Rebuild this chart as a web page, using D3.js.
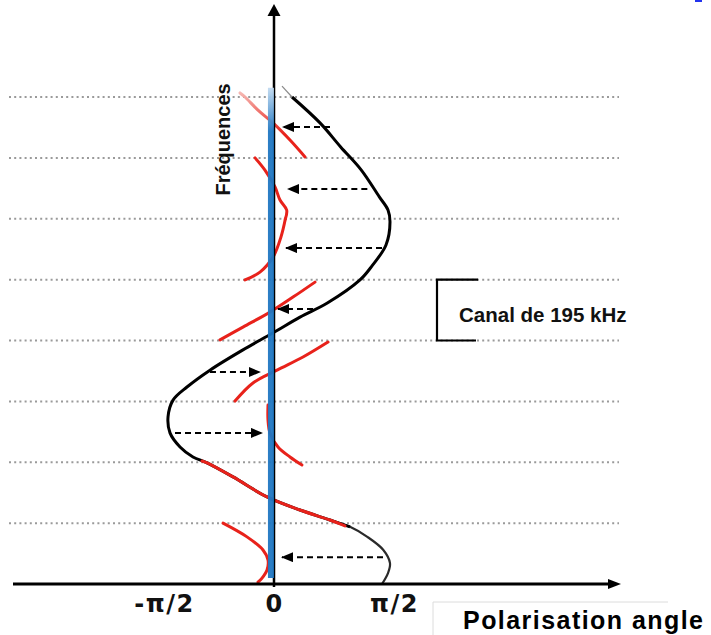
<!DOCTYPE html>
<html>
<head>
<meta charset="utf-8">
<script src="https://cdn.jsdelivr.net/npm/d3@7"></script>
<style>
  body { margin: 0; background: #fff; }
  svg { display: block; }
</style>
</head>
<body>
<svg id="chart" width="711" height="635"></svg>
<script>
// ---- data -------------------------------------------------------------
const channelWidth = 195;          // kHz per channel
const channelCount = 8;            // channel boundaries drawn as dotted lines
const tickValues = [-90, 0, 90];   // polarisation angle, degrees
const tickLabels = ["-π/2", "0", "π/2"];

// measured polarisation angle [frequency kHz, angle deg] before correction
const rotatedAngle = [
  [0, 81], [35, 85.5], [67, 87], [109, 82], [151, 70], [183, 57], [205, 42],
  [237, 19.5], [279, -5.7], [343, -33.5], [388, -54.8], [407, -66.3],
  [439, -76.9], [484, -85.1], [535, -86.7], [589, -82.6], [631, -71.2],
  [685, -52.4], [750, -25.4], [804, -1], [855, 19.5], [900, 40], [974, 64.5],
  [1019, 73.5], [1086, 84], [1160, 87], [1198, 85.5], [1240, 79], [1326, 65.5],
  [1400, 50], [1477, 34.5], [1560, 13.5], [1595, 6]
];

// angle inside each channel after removing the channel's mean rotation
const channel1 = [[6, -13.1], [19, -9.8], [45, -5.7], [77, -4.9], [109, -9], [151, -22.1], [195, -41.7]];
const channel2 = [[186, 53.25], [205, 42], [237, 19.5], [279, -5.7], [343, -33.5], [388, -54.8], [394, -58.9]];
const channel3 = [[381, 21], [407, 12], [439, 3], [484, -3.3], [525, -4.9], [573, -4.9]];
const channel4 = [[586, -31.9], [644, -17.2], [685, 2.25], [727, 21.75], [775, 40.5]];
const channel5 = [[782, -44.2], [823, -25.4], [871, -3.3], [919, 14.25], [967, 30.75]];
const channel6 = [[974, -23.7], [999, -11.5], [1047, -0.8], [1112, 5.25], [1169, 8.5]];
const channel7 = [[1169, 8.5], [1198, 9.5], [1230, 4.5], [1272, 0.75], [1326, -7.4], [1365, -15.5]];
const channel8 = [[1368, 23.25], [1422, 12], [1477, -0.8], [1518, -13.1], [1560, -23.7], [1573, -27.8]];

// correction applied per channel: [frequency kHz, from angle, to angle]
const corrections = [
  [86, 81.75, 6], [484, -81, -9.8], [679, -52.4, -11.5], [881, 29.25, 3],
  [1076, 81, 9], [1265, 70, 10.5], [1464, 42, 6.75]
];

// residual angle once every channel is corrected
const residual = [[19, -2.5], [1590, -2.5]];

// ---- scales -----------------------------------------------------------
const svg = d3.select("#chart");
const x = d3.scaleLinear().domain([-90, 0, 90]).range([164, 274, 394]);
const y = d3.scaleLinear().domain([0, channelWidth * channelCount]).range([584, 97]);
const gridLeft = 9, gridRight = 619;

const line = d3.line()
  .x(d => x(d[1]))
  .y(d => y(d[0]))
  .curve(d3.curveCatmullRom.alpha(0.5));

const defs = svg.append("defs");

// fading tops of the highest channel and of the residual band
const redFade = defs.append("linearGradient")
  .attr("id", "redFade").attr("gradientUnits", "userSpaceOnUse")
  .attr("x1", 0).attr("x2", 0).attr("y1", y(1575)).attr("y2", y(1440));
redFade.append("stop").attr("offset", 0).attr("stop-color", "#f6b9b4");
redFade.append("stop").attr("offset", 1).attr("stop-color", "#e8221b");

const blueFade = defs.append("linearGradient")
  .attr("id", "blueFade").attr("gradientUnits", "userSpaceOnUse")
  .attr("x1", 0).attr("x2", 0).attr("y1", y(1590)).attr("y2", y(1450));
blueFade.append("stop").attr("offset", 0).attr("stop-color", "#c3dbf1");
blueFade.append("stop").attr("offset", 1).attr("stop-color", "#2077c2");

defs.append("marker")
  .attr("id", "head").attr("markerUnits", "userSpaceOnUse")
  .attr("viewBox", "0 0 12 10").attr("refX", 11).attr("refY", 5)
  .attr("markerWidth", 12).attr("markerHeight", 10).attr("orient", "auto")
  .append("path").attr("d", "M0,0L12,5L0,10Z").attr("fill", "#000");

// ---- channel boundaries -----------------------------------------------
svg.append("g")
  .selectAll("line")
  .data(d3.range(1, channelCount + 1).map(k => k * channelWidth))
  .join("line")
  .attr("x1", gridLeft).attr("x2", gridRight)
  .attr("y1", d => y(d)).attr("y2", d => y(d))
  .attr("stroke", "#9a9a9a").attr("stroke-width", 2)
  .attr("stroke-dasharray", "2,3.2");

// ---- rotated polarisation curve ----------------------------------------
svg.append("path")
  .datum(rotatedAngle.filter(d => d[0] <= 205))
  .attr("d", line).attr("fill", "none")
  .attr("stroke", "#2a2a2a").attr("stroke-width", 2.2);
svg.append("path")
  .datum(rotatedAngle.filter(d => d[0] >= 183 && d[0] <= 1560))
  .attr("d", line).attr("fill", "none")
  .attr("stroke", "#000").attr("stroke-width", 3);
svg.append("path")
  .datum(rotatedAngle.filter(d => d[0] >= 1560))
  .attr("d", line).attr("fill", "none")
  .attr("stroke", "#8a8a8a").attr("stroke-width", 1.2);

// ---- per-channel corrected segments ------------------------------------
const channels = [channel1, channel2, channel3, channel4, channel5, channel6, channel7, channel8];
svg.append("g")
  .selectAll("path")
  .data(channels)
  .join("path")
  .attr("d", line).attr("fill", "none")
  .attr("stroke", (d, i) => i === channels.length - 1 ? "url(#redFade)" : "#e8221b")
  .attr("stroke-width", 3).attr("stroke-linecap", "round");

// ---- y axis (frequency) -----------------------------------------------
svg.append("line")
  .attr("x1", x(0)).attr("x2", x(0))
  .attr("y1", y(0) + 3).attr("y2", 14)
  .attr("stroke", "#000").attr("stroke-width", 2.5);
svg.append("path")
  .attr("d", `M${x(0)},4L${x(0) + 6.5},16L${x(0) - 6.5},16Z`)
  .attr("fill", "#000");

// ---- residual band ----------------------------------------------------
svg.append("path")
  .datum(residual)
  .attr("d", line).attr("fill", "none")
  .attr("stroke", "url(#blueFade)").attr("stroke-width", 6)
  .attr("stroke-opacity", 0.95);

// ---- x axis (polarisation angle) ---------------------------------------
svg.append("line")
  .attr("x1", 13).attr("x2", 610)
  .attr("y1", y(0)).attr("y2", y(0))
  .attr("stroke", "#000").attr("stroke-width", 3);
svg.append("path")
  .attr("d", `M621,${y(0)}L608,${y(0) - 5}L608,${y(0) + 5}Z`)
  .attr("fill", "#000");

const xAxis = svg.append("g")
  .attr("transform", `translate(0,${y(0)})`)
  .call(d3.axisBottom(x).tickValues(tickValues)
    .tickFormat((d, i) => tickLabels[i]).tickSize(0).tickPadding(11));
xAxis.select(".domain").remove();
xAxis.selectAll("text")
  .attr("font-family", "DejaVu Sans, sans-serif")
  .attr("font-weight", "bold").attr("font-size", 24)
  .attr("letter-spacing", 1.5).attr("fill", "#111");

// ---- correction arrows ------------------------------------------------
svg.append("g")
  .selectAll("line")
  .data(corrections)
  .join("line")
  .attr("x1", d => x(d[1])).attr("x2", d => x(d[2]))
  .attr("y1", d => y(d[0])).attr("y2", d => y(d[0]))
  .attr("stroke", "#000").attr("stroke-width", 2)
  .attr("stroke-dasharray", "6,4")
  .attr("marker-end", "url(#head)");

// ---- labels -----------------------------------------------------------
svg.append("text")
  .attr("transform", `translate(230,${(y(channelWidth * 7) + y(channelWidth * 8)) / 2 + 12}) rotate(-90)`)
  .attr("text-anchor", "middle")
  .attr("font-family", "Liberation Sans, Arial, sans-serif")
  .attr("font-weight", "bold").attr("font-size", 20)
  .attr("fill", "#111")
  .text("Fréquences");

// bracket showing one channel width
const c0 = y(channelWidth * 4), c1 = y(channelWidth * 5);
svg.append("path")
  .attr("d", `M478,${c1}H437V${c0}H476`)
  .attr("fill", "none").attr("stroke", "#000").attr("stroke-width", 2.2);
svg.append("text")
  .attr("x", 459).attr("y", (c0 + c1) / 2 + 12)
  .attr("font-family", "Liberation Sans, Arial, sans-serif")
  .attr("font-weight", "bold").attr("font-size", 20.5)
  .attr("fill", "#111")
  .text(`Canal de ${channelWidth} kHz`);

// axis title in its frame
svg.append("path")
  .attr("d", "M433,635V602H668")
  .attr("fill", "none").attr("stroke", "#dcdcdc").attr("stroke-width", 1);
svg.append("text")
  .attr("x", 463).attr("y", 629)
  .attr("font-family", "Liberation Sans, Arial, sans-serif")
  .attr("font-weight", "bold").attr("font-size", 25)
  .attr("textLength", 240).attr("lengthAdjust", "spacing")
  .attr("fill", "#000")
  .text("Polarisation angle");

svg.append("line")
  .attr("x1", 695).attr("x2", 702).attr("y1", 1).attr("y2", 1)
  .attr("stroke", "#2233ee").attr("stroke-width", 2);
</script>
</body>
</html>
